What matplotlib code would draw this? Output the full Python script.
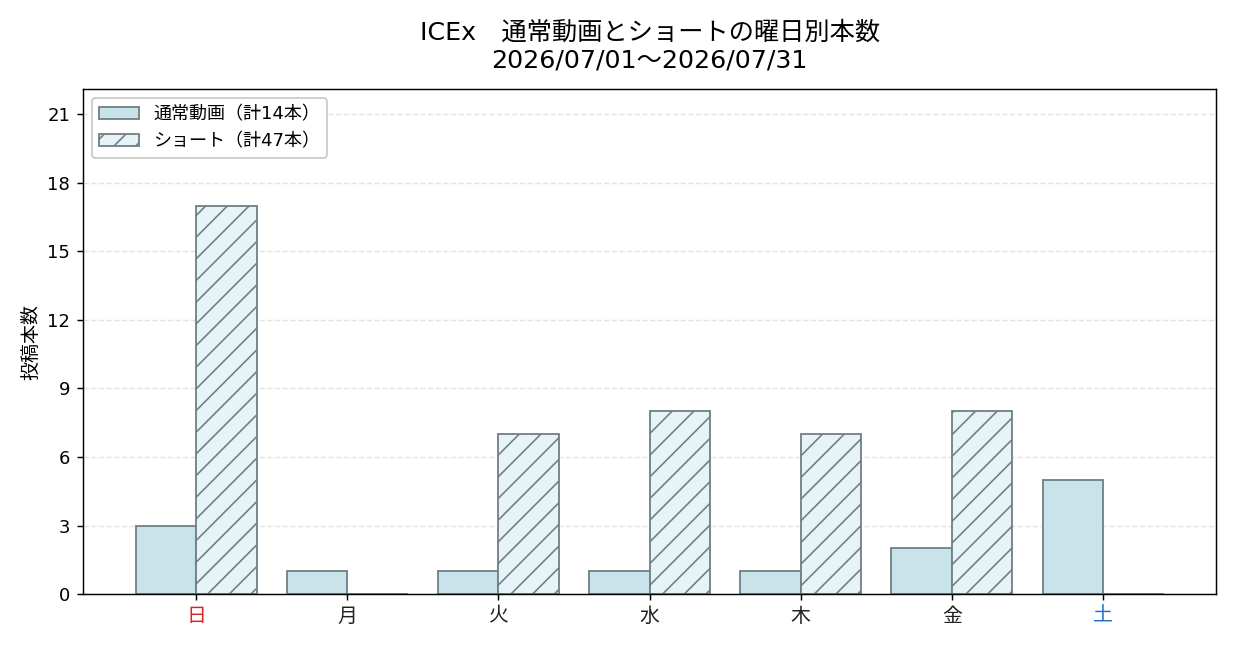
import numpy as np
import matplotlib
matplotlib.use('Agg')
import matplotlib.pyplot as plt

# Latin glyphs from DejaVu (wide digits like the original), the rest from Noto CJK
plt.rcParams['font.family'] = ['DejaVu Sans', 'Noto Sans CJK JP']
plt.rcParams['hatch.color'] = '#6f7f86'
plt.rcParams['hatch.linewidth'] = 0.9

days = ['日', '月', '火', '水', '木', '金', '土']
normalCounts = [3, 1, 1, 1, 1, 2, 5]
shortCounts = [17, 0, 7, 8, 7, 8, 0]
dayColors = ['#d62728', '#222222', '#222222', '#222222', '#222222', '#222222', '#1f6fc9']

title = 'ICEx\u3000通常動画とショートの曜日別本数\n2026/07/01〜2026/07/31'
normalLabel = f'通常動画（計{sum(normalCounts)}本）'
shortLabel = f'ショート（計{sum(shortCounts)}本）'

edgeColor = '#6f7f86'
barWidth = 0.4
x = np.arange(len(days))

fig, ax = plt.subplots(figsize=(9.5, 5), dpi=130)
ax.bar(x - barWidth/2, normalCounts, barWidth, color='#c8e4ea',
       edgecolor=edgeColor, linewidth=1.0, label=normalLabel)
ax.bar(x + barWidth/2, shortCounts, barWidth, color='#e6f3f7',
       edgecolor=edgeColor, linewidth=1.0, hatch='//', label=shortLabel)

ax.set_xticks(x)
ax.set_xticklabels(days, fontsize=11)
for tickLabel, c in zip(ax.get_xticklabels(), dayColors):
    tickLabel.set_color(c)

ax.set_xlim(-0.75, 6.75)
ax.set_ylim(0, max(shortCounts) * 1.3)
ax.set_yticks(np.arange(0, 22, 3))
ax.tick_params(axis='y', labelsize=10)
ax.set_ylabel('投稿本数', fontsize=10.5)
ax.set_title(title, fontsize=14, linespacing=1.2, pad=12)

ax.set_axisbelow(True)
ax.yaxis.grid(True, linestyle='--', color='#e3e3e3', linewidth=0.8)
ax.legend(loc='upper left', fontsize=10, handlelength=2.2, framealpha=1)

fig.subplots_adjust(left=0.067, right=0.985, top=0.863, bottom=0.086)
fig.savefig('out.png')
